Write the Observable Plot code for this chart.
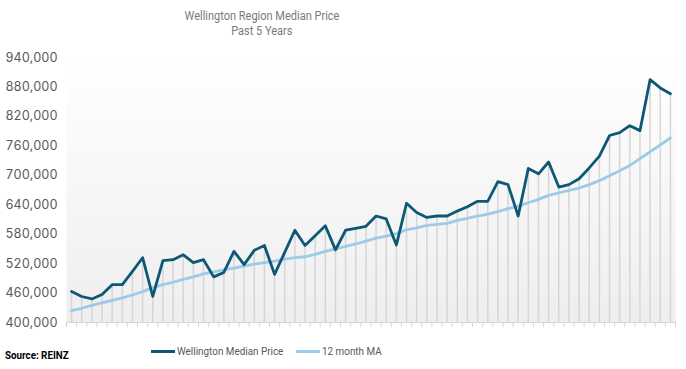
<!DOCTYPE html>
<html>
<head>
<meta charset="utf-8">
<script src="https://cdn.jsdelivr.net/npm/d3@7"></script>
<script src="https://cdn.jsdelivr.net/npm/@observablehq/plot@0.6"></script>
<style>
  html, body { margin: 0; padding: 0; background: #fff; }
  #wrap { position: relative; width: 686px; height: 369px; font-family: Roboto, "Noto Sans", sans-serif; }
  .title { position: absolute; left: 0; width: 524px; text-align: center; color: #7a7a7a; font-size: 12.5px; line-height: 15px; }
  .title span { display: inline-block; transform: scaleX(0.88); transform-origin: center; }
  .leg { position: absolute; top: 344px; font-size: 11.5px; line-height: 15px; color: #595959; display: flex; align-items: center; white-space: nowrap; }
  .leg .t { display: inline-block; transform: scaleX(0.86); transform-origin: left center; }
  .sw { display: inline-block; width: 24px; height: 3px; margin-right: 2px; }
  #source { position: absolute; left: 5px; top: 349px; font-size: 11px; font-weight: bold; color: #000; transform: scaleX(0.89); transform-origin: left center; }
</style>
</head>
<body>
<div id="wrap">
  <div class="title" style="top:8px"><span>Wellington Region Median Price</span></div>
  <div class="title" style="top:23px"><span>Past 5 Years</span></div>
  <div id="chart"></div>
  <div class="leg" style="left:151px"><span class="sw" style="background:#0d5876"></span><span class="t">Wellington Median Price</span></div>
  <div class="leg" style="left:296px"><span class="sw" style="background:#9ccbea"></span><span class="t">12 month MA</span></div>
  <div id="source">Source: REINZ</div>
</div>
<script>
const months = d3.range(1, 61);
const median = [
  463000, 453000, 448000, 457000, 477000, 477000, 504000, 532000, 453000, 526000,
  528000, 538000, 522000, 528000, 493000, 502000, 545000, 518000, 547000, 557000,
  498000, 543000, 588000, 557000, 577000, 597000, 548000, 588000, 592000, 596000,
  617000, 611000, 558000, 643000, 624000, 614000, 617000, 617000, 627000, 636000,
  647000, 647000, 687000, 681000, 617000, 714000, 703000, 727000, 676000, 681000,
  693000, 715000, 739000, 781000, 787000, 801000, 791000, 895000, 878000, 866000
];
const ma = [
  424000, 429000, 435000, 440000, 445000, 450000, 456000, 463000, 471000, 477000,
  482000, 488000, 493000, 499000, 503000, 507000, 511000, 515000, 519000, 522000,
  525000, 529000, 532000, 534000, 539000, 545000, 550000, 555000, 560000, 566000,
  572000, 576000, 581000, 589000, 593000, 598000, 600000, 602000, 608000, 612000,
  617000, 621000, 626000, 632000, 637000, 644000, 651000, 659000, 664000, 669000,
  674000, 681000, 689000, 699000, 709000, 720000, 734000, 748000, 762000, 776000
];
const yTicks = [400000, 460000, 520000, 580000, 640000, 700000, 760000, 820000, 880000, 940000];

const data = months.map((m, i) => ({m, median: median[i], ma: ma[i]}));
const edges = [0, ...months].map(m => m + 0.5);

const chart = Plot.plot({
  width: 686,
  height: 369,
  marginTop: 57,
  marginBottom: 47,
  marginLeft: 66,
  marginRight: 11,
  style: {fontFamily: "Inter, 'Noto Sans', sans-serif", background: "transparent"},
  x: {domain: [0.5, 60.5], axis: null},
  y: {domain: [400000, 940000], axis: null},
  marks: [
    Plot.frame({fill: "url(#bgGrad)", stroke: null}),
    Plot.ruleX(data, {x: "m", y1: 400000, y2: "median", stroke: "#d6d6d6", strokeWidth: 1.5}),
    Plot.ruleY([400000], {stroke: "#d6d6d6", strokeWidth: 1}),
    Plot.ruleX(edges, {x: d => d, y1: 400000, y2: 400000, insetBottom: -5, stroke: "#d6d6d6", strokeWidth: 1}),
    Plot.axisY(yTicks, {tickSize: 0, tickPadding: 9, tickFormat: d3.format(","), fontSize: 12.5, fill: "#595959"}),
    Plot.line(data, {x: "m", y: "ma", stroke: "#9ccbea", strokeWidth: 2.8}),
    Plot.line(data, {x: "m", y: "median", stroke: "#0d5876", strokeWidth: 2.8})
  ]
});

const svg = d3.select(chart);
const defs = svg.insert("defs", ":first-child");
const grad = defs.append("linearGradient").attr("id", "bgGrad").attr("x1", 0).attr("y1", 0).attr("x2", 0).attr("y2", 1);
grad.append("stop").attr("offset", "0%").attr("stop-color", "#ffffff");
grad.append("stop").attr("offset", "100%").attr("stop-color", "#eeeeee");

document.getElementById("chart").appendChild(chart);
</script>
</body>
</html>
